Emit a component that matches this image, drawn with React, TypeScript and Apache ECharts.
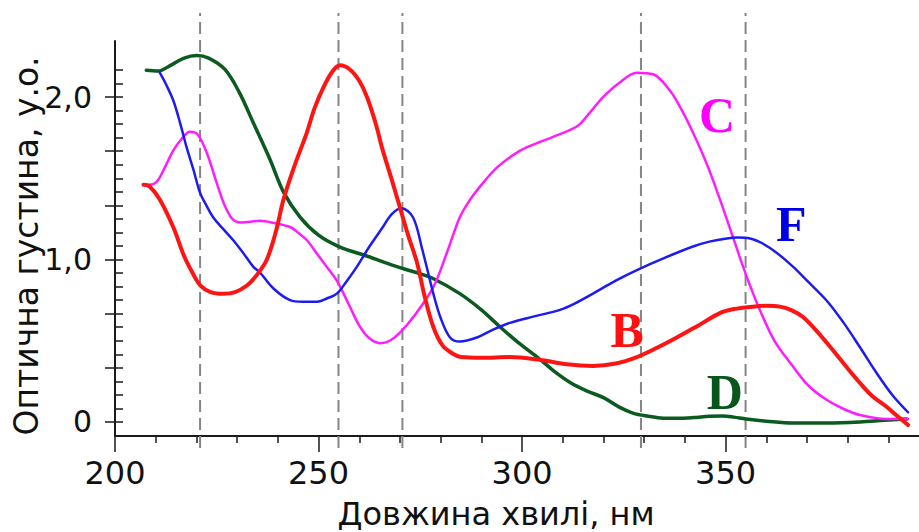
import React, { useEffect, useRef } from 'react';
import * as echarts from 'echarts';

// Wavelength axis (nm)
const wavelengthTicks = [200, 250, 300, 350];
const wavelengthMinorTicks = [210, 220, 230, 240, 260, 270, 280, 290, 310, 320, 330, 340, 360, 370, 380, 390];
// Optical density axis
const densityLabels = [0, 1, 2];
const densityMajorTicks = [0, 0.3333, 0.6667, 1, 1.3333, 1.6667, 2];
const densityMinorTicks = [0, 0.0833, 0.1667, 0.25, 0.3333, 0.4167, 0.5, 0.5833, 0.6667, 0.75, 0.8333, 0.9167, 1, 1.0833, 1.1667, 1.25, 1.3333, 1.4167, 1.5, 1.5833, 1.6667, 1.75, 1.8333, 1.9167, 2, 2.0833, 2.1667];

// Dashed reference lines (nm)
const peakWavelengths = [220.9, 254.9, 270.6, 329.2, 354.9];

// Spectrum B (red)
const spectrumB = [
  [207, 1.46], [208.5, 1.45], [211, 1.37], [214.3, 1.2], [217, 1.02], [219, 0.92], [221, 0.84], [223.5, 0.8],
  [226.6, 0.79], [229.5, 0.8], [232.4, 0.84], [235, 0.91], [237.3, 1.0], [239.5, 1.17], [241.4, 1.37], [244, 1.57],
  [247.1, 1.78], [249, 1.93], [251.2, 2.06], [253.5, 2.16], [255.3, 2.195], [257.7, 2.17], [260, 2.1], [261.9, 2.0],
  [264, 1.84], [265.8, 1.67], [268, 1.49], [270, 1.32], [272, 1.15], [274.2, 0.98], [276, 0.78], [278.2, 0.585],
  [280.5, 0.47], [283, 0.42], [285, 0.4], [290, 0.395], [297, 0.4], [305, 0.38], [311, 0.355], [317.4, 0.345],
  [323, 0.36], [328.2, 0.4], [333, 0.455], [338, 0.52], [343, 0.59], [348.6, 0.67], [352, 0.695], [356.7, 0.71],
  [360, 0.715], [363.3, 0.71], [366, 0.69], [369, 0.646], [372, 0.57], [374.9, 0.486], [379, 0.36], [383, 0.24],
  [386, 0.16], [389.6, 0.092], [392, 0.04], [394.8, -0.018],
];

// Spectrum C (magenta)
const spectrumC = [
  [207, 1.46], [208.5, 1.46], [210.3, 1.48], [212.3, 1.57], [214.3, 1.67], [216.3, 1.74], [218.4, 1.787], [220.3, 1.77],
  [222.5, 1.66], [225, 1.47], [227, 1.33], [229, 1.245], [231, 1.228], [235.6, 1.238], [239, 1.225], [243, 1.2],
  [245, 1.165], [247.1, 1.12], [249.5, 1.04], [252, 0.955], [254.5, 0.87], [257.5, 0.72], [260.2, 0.585], [262.5, 0.515],
  [265.1, 0.485], [267.5, 0.5], [270, 0.55], [274, 0.67], [278.2, 0.83], [281.5, 1.04], [284.7, 1.26], [287, 1.36],
  [289.7, 1.45], [294, 1.57], [299.5, 1.67], [303.5, 1.715], [307.6, 1.755], [313.5, 1.82], [316.5, 1.9], [319.9, 2.0],
  [324, 2.09], [328.2, 2.15], [332.2, 2.14], [336.3, 2.04], [339, 1.93], [342, 1.78], [345.5, 1.58], [348.6, 1.37],
  [351.5, 1.16], [354.3, 0.955], [356.3, 0.82], [358.4, 0.69], [362, 0.5], [366.6, 0.34], [370.5, 0.22], [374.9, 0.135],
  [379, 0.08], [383, 0.043], [389.6, 0.018], [394.8, 0.018],
];

// Spectrum D (green)
const spectrumD = [
  [207.7, 2.165], [210.5, 2.16], [214, 2.2], [217, 2.24], [220, 2.255], [223, 2.24], [227, 2.17], [230.5, 2.03],
  [234, 1.84], [238, 1.62], [241.5, 1.41], [245.5, 1.26], [250, 1.15], [255, 1.08], [262, 1.02], [270, 0.95],
  [274, 0.92], [278, 0.885], [284.7, 0.79], [290, 0.69], [294.6, 0.585], [299, 0.49], [303.7, 0.4], [308, 0.31],
  [312, 0.24], [316, 0.19], [320, 0.15], [324, 0.09], [327.2, 0.055], [331, 0.035], [334, 0.025], [338, 0.023],
  [342, 0.027], [346, 0.035], [349.3, 0.037], [352, 0.03], [355, 0.018], [360, 0.005], [366.5, -0.006], [375, -0.006],
  [383, 0.0], [389, 0.01], [394.5, 0.018],
];

// Spectrum F (blue)
const spectrumF = [
  [211, 2.15], [212.5, 2.08], [214.3, 1.98], [216, 1.84], [217.6, 1.69], [219.3, 1.55], [220.9, 1.41], [222.5, 1.33],
  [224.1, 1.26], [226.5, 1.19], [229, 1.12], [231.5, 1.04], [234, 0.955], [235.6, 0.92], [239, 0.82], [243, 0.75],
  [246, 0.74], [249.6, 0.74], [252, 0.76], [254.5, 0.79], [257, 0.87], [259.4, 0.955], [262.5, 1.08], [265.8, 1.2],
  [268, 1.28], [270.4, 1.315], [273.2, 1.26], [275.5, 1.06], [278.2, 0.79], [280, 0.64], [282.3, 0.52], [284.7, 0.495],
  [288.9, 0.52], [293, 0.57], [297, 0.61], [303, 0.65], [309.3, 0.69], [313, 0.73], [317.4, 0.79], [323, 0.87],
  [328.2, 0.935], [335, 1.01], [342, 1.08], [346, 1.11], [350.3, 1.13], [353, 1.135], [356, 1.13], [359, 1.1],
  [362.6, 1.04], [366.6, 0.955], [370, 0.87], [374.9, 0.745], [379, 0.61], [383, 0.46], [387, 0.305], [391, 0.165],
  [394.8, 0.06],
];

// Curve letter labels: [wavelength, density]
const curveLabelNames = ['C', 'F', 'B', 'D'];
const curveLabelPositions = [[347.9, 1.89], [366.1, 1.22], [325.8, 0.566], [349.8, 0.185]];
const curveLabelColors = ['#ff00ff', '#0000e6', '#ff1010', '#08561c'];

const xTitle = 'Довжина хвилі, нм';
const yTitle = 'Оптична густина, у.о.';

const AXIS_COLOR = '#1a1a1a';

export default function App() {
  const ref = useRef<HTMLDivElement>(null);

  useEffect(() => {
    if (!ref.current) return;
    const chart = echarts.init(ref.current, undefined, { renderer: 'svg' });

    const curve = (name: string, data: number[][], color: string, width: number, z: number) => ({
      name,
      type: 'line',
      xAxisIndex: 0,
      yAxisIndex: 0,
      data,
      symbol: 'none',
      showSymbol: false,
      smooth: 0.35,
      lineStyle: { color, width, cap: 'round', join: 'round' },
      z,
      silent: true,
    });

    const dashed = peakWavelengths.map((p) => ({
      type: 'line',
      xAxisIndex: 2,
      yAxisIndex: 2,
      data: [[p, 0], [p, 1]],
      symbol: 'none',
      showSymbol: false,
      lineStyle: { color: '#858585', width: 2, type: [12, 6] },
      z: 1,
      silent: true,
    }));

    const option = {
      animation: false,
      backgroundColor: '#ffffff',
      grid: [
        { left: 115, right: 0, top: 41, bottom: 96, containLabel: false },
        { left: 115, right: 0, top: 13, bottom: 84, containLabel: false },
      ],
      xAxis: [
        {
          type: 'value', gridIndex: 0, min: 200, max: 397.5, position: 'bottom',
          axisLine: { show: true, onZero: false, lineStyle: { color: AXIS_COLOR, width: 2 } },
          axisTick: { show: true, customValues: wavelengthTicks, length: 16, lineStyle: { color: AXIS_COLOR, width: 1.5 } },
          axisLabel: { show: true, customValues: wavelengthTicks, margin: 21, fontSize: 32, fontFamily: 'DejaVu Sans', color: '#111' },
          splitLine: { show: false },
        },
        {
          type: 'value', gridIndex: 0, min: 200, max: 397.5, position: 'bottom',
          axisLine: { show: false, onZero: false },
          axisTick: { show: true, customValues: wavelengthMinorTicks, length: 7, lineStyle: { color: AXIS_COLOR, width: 1.5 } },
          axisLabel: { show: false },
          splitLine: { show: false },
        },
        { type: 'value', gridIndex: 1, min: 200, max: 397.5, show: false },
      ],
      yAxis: [
        {
          type: 'value', gridIndex: 0, min: -0.0862, max: 2.345, position: 'left',
          axisLine: { show: true, onZero: false, lineStyle: { color: AXIS_COLOR, width: 2 } },
          axisTick: { show: true, customValues: densityMajorTicks, length: 10, lineStyle: { color: AXIS_COLOR, width: 1.5 } },
          axisLabel: {
            show: true, customValues: densityLabels, margin: 23, fontSize: 30, fontFamily: 'DejaVu Sans', color: '#111',
            formatter: (v: number) => (v === 0 ? '0' : v.toFixed(1).replace('.', ',')),
          },
          splitLine: { show: false },
        },
        {
          type: 'value', gridIndex: 0, min: -0.0862, max: 2.345, position: 'left',
          axisLine: { show: false, onZero: false },
          axisTick: { show: true, inside: true, customValues: densityMinorTicks, length: 8, lineStyle: { color: AXIS_COLOR, width: 1.5 } },
          axisLabel: { show: false },
          splitLine: { show: false },
        },
        { type: 'value', gridIndex: 1, min: 0, max: 1, show: false },
      ],
      graphic: [
        {
          type: 'text', x: 496, y: 514, silent: true,
          style: { text: xTitle, fontSize: 32, fontFamily: 'DejaVu Sans', fill: '#111', align: 'center', verticalAlign: 'middle', textAlign: 'center', textVerticalAlign: 'middle' },
        },
        {
          type: 'text', x: 26, y: 246, rotation: Math.PI / 2, silent: true,
          style: { text: yTitle, fontSize: 33, fontFamily: 'DejaVu Sans', fill: '#111', align: 'center', verticalAlign: 'middle', textAlign: 'center', textVerticalAlign: 'middle' },
        },
      ],
      series: [
        ...dashed,
        curve('D', spectrumD, '#0b5a20', 3.5, 3),
        curve('C', spectrumC, '#ff1dff', 2.5, 4),
        curve('F', spectrumF, '#1c1cf0', 2.5, 5),
        curve('B', spectrumB, '#ff1414', 4, 6),
        {
          type: 'scatter',
          xAxisIndex: 0,
          yAxisIndex: 0,
          symbolSize: 0,
          silent: true,
          z: 10,
          itemStyle: { opacity: 1 },
          data: curveLabelNames.map((n, i) => ({
            name: n,
            value: curveLabelPositions[i],
            label: { color: curveLabelColors[i] },
          })),
          label: {
            show: true, position: 'inside', formatter: '{b}', fontSize: 50, fontWeight: 'bold',
            fontFamily: 'Liberation Serif', opacity: 1,
          },
        },
      ],
    };

    chart.setOption(option as any);
    return () => chart.dispose();
  }, []);

  return <div ref={ref} style={{ position: 'fixed', left: 0, top: 0, width: 919, height: 532, background: '#fff' }} />;
}
